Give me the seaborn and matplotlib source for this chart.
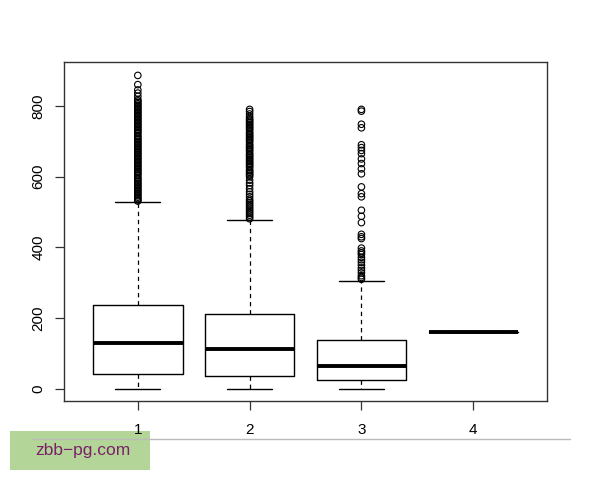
import pandas as pd
import matplotlib
matplotlib.use("Agg")
import matplotlib.pyplot as plt
from matplotlib.patches import Rectangle
from matplotlib.lines import Line2D
import seaborn as sns

# box statistics (groups 1-4)
groups = [1, 2, 3, 4]
whisker_low = [0, 0, 0, 160]
q1 = [41, 36, 24, 160]
median = [131, 113, 66, 160]
q3 = [236, 213, 137, 160]
whisker_high = [529, 477, 305, 160]

# outliers per group
out1 = [886, 860, 845, 836, 827, 818, 814, 810, 806, 802, 798, 794, 790, 786,
        782, 778, 774, 770, 766, 762, 758, 754, 750, 746, 742, 738, 734, 730,
        726, 722, 716, 712, 708, 704, 700, 696, 692, 688, 684, 680, 676, 672,
        668, 664, 660, 656, 652, 648, 644, 640, 636, 632, 628, 624, 620, 616,
        612, 608, 604, 598, 594, 590, 586, 582, 578, 574, 570, 566, 562, 558,
        554, 550, 546, 542, 538, 534, 531]
out2 = [790, 784, 777, 770, 764, 760, 756, 752, 748, 744, 740, 736, 732, 726,
        722, 718, 714, 710, 706, 702, 698, 692, 688, 684, 680, 676, 672, 666,
        662, 658, 654, 650, 646, 642, 638, 634, 630, 626, 620, 616, 612, 608,
        604, 600, 590, 582, 575, 566, 557, 550, 543, 536, 531, 526, 521, 516,
        511, 506, 501, 496, 491, 486, 481]
out3 = [790, 785, 748, 738, 690, 682, 674, 665, 650, 637, 622, 608, 571, 552,
        543, 505, 488, 470, 437, 430, 425, 398, 390, 385, 380, 372, 365, 358,
        350, 342, 335, 328, 320, 315, 310]

sns.set_style("white")
plt.rcParams["font.family"] = ["Liberation Sans", "DejaVu Sans"]

fig = plt.figure(figsize=(6, 4.8), dpi=100)
ax = fig.add_axes([0.1067, 0.1646, 0.805, 0.7063])

stats = []
for i in range(len(groups)):
    stats.append({"whislo": whisker_low[i], "q1": q1[i], "med": median[i],
                  "q3": q3[i], "whishi": whisker_high[i], "fliers": []})

ax.bxp(stats, positions=groups, widths=0.8, capwidths=0.4, showfliers=False,
       boxprops=dict(color="black", linewidth=1),
       medianprops=dict(color="black", linewidth=2.8, solid_capstyle="butt"),
       whiskerprops=dict(color="black", linewidth=0.9, linestyle=(0, (3.5, 3))),
       capprops=dict(color="black", linewidth=1))

outliers = pd.DataFrame({
    "group": [1] * len(out1) + [2] * len(out2) + [3] * len(out3),
    "value": out1 + out2 + out3,
})
sns.scatterplot(data=outliers, x="group", y="value", ax=ax, marker="o", s=22,
                facecolors="none", edgecolors="black", linewidth=0.8,
                legend=False)

ax.set_xlim(0.34, 4.66)
ax.set_ylim(-34, 924)
ax.set_xticks(groups)
ax.set_xticklabels([str(g) for g in groups])
ax.set_yticks([0, 200, 400, 600, 800])
ax.set_xlabel("")
ax.set_ylabel("")

for sp in ax.spines.values():
    sp.set_visible(True)
    sp.set_color("#333333")
    sp.set_linewidth(1)

ax.tick_params(axis="both", direction="out", length=6.5, width=0.9,
               color="#333333", labelsize=11, labelcolor="black")
ax.tick_params(axis="x", pad=9, bottom=True)
ax.tick_params(axis="y", pad=7, left=True, labelrotation=90)
for lab in ax.get_yticklabels():
    lab.set_va("center")

# watermark
fig.patches.append(Rectangle((10 / 600, 1 - 470 / 480), 140 / 600, 39 / 480,
                             transform=fig.transFigure, facecolor="#b3d698",
                             edgecolor="none", zorder=-1))
fig.lines.append(Line2D([32 / 600, 570 / 600], [1 - 439 / 480, 1 - 439 / 480],
                        transform=fig.transFigure, color="#bbbbbb",
                        linewidth=1, zorder=3))
fig.text(35 / 600, 1 - 451 / 480, "zbb\u2212pg.com", color="#7a2068",
         fontsize=12.5, va="center", ha="left")

fig.savefig("out.png", dpi=100)
